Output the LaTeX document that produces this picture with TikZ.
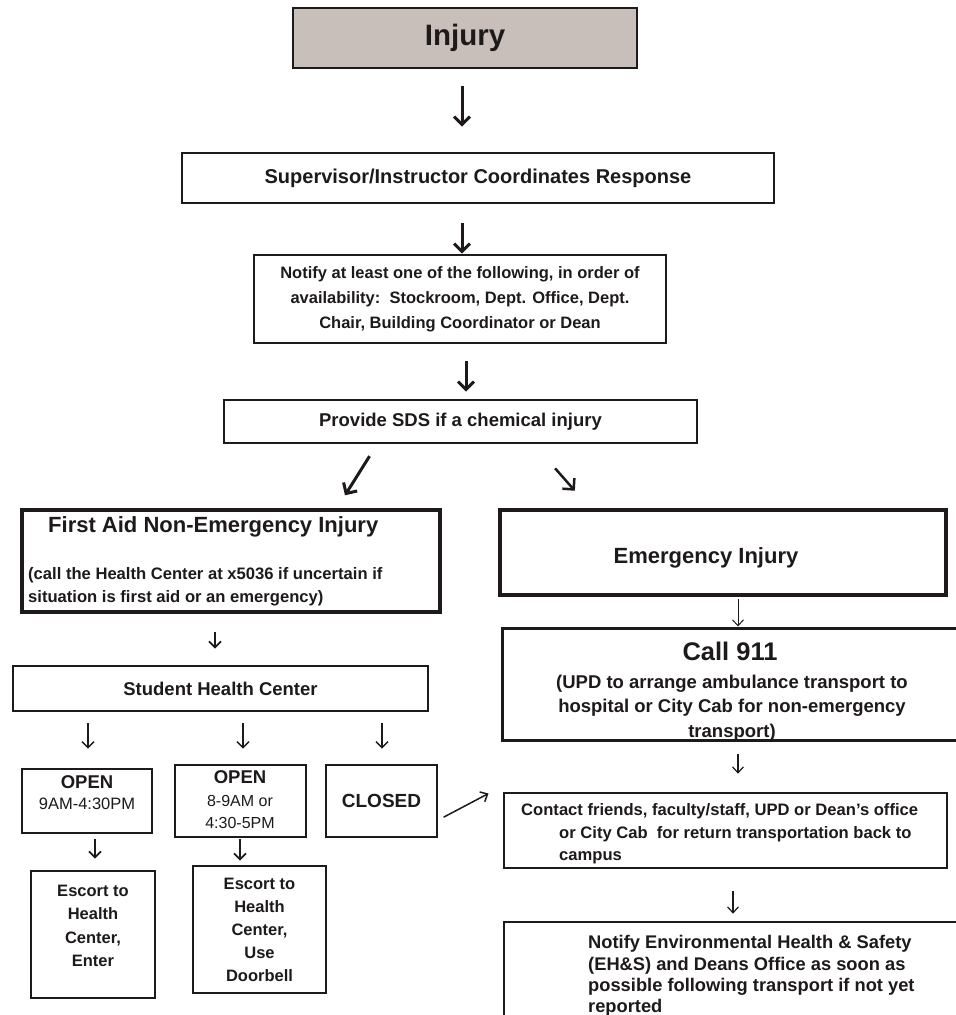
\documentclass[tikz,border=0pt]{standalone}
\usepackage{fontspec}
\setmainfont{Liberation Sans}
\usetikzlibrary{arrows.meta,calc}
\definecolor{ink}{RGB}{30,26,26}
\definecolor{injfill}{RGB}{200,191,187}
\newcommand\myfs[2]{\fontsize{#1}{#2}\selectfont}
\begin{document}
\begin{tikzpicture}[x=1pt,y=-1pt,
 box/.style={draw=ink,line width=2.6pt,fill=white,inner sep=0pt,text=ink},
 txt/.style={text=ink,inner sep=0pt},
 bigarr/.style={draw=ink,line width=3pt,-{Straight Barb[length=8pt,width=16pt]}},
 midarr/.style={draw=ink,line width=1.8pt,-{Straight Barb[length=6pt,width=12pt]}},
 thinarr/.style={draw=ink,line width=1.2pt,-{Straight Barb[length=6pt,width=11pt]}}]
\useasboundingbox (0,0) rectangle (956,1015);
\fill[white] (0,0) rectangle (956,1015);

% top column
\node[box,fill=injfill,minimum width=344pt,minimum height=60pt,font=\bfseries\myfs{29.5}{31}] (inj) at (465,38) {Injury};
\node[box,minimum width=592pt,minimum height=50pt,font=\bfseries\myfs{20}{22}] (sup) at (478,178) {Supervisor/Instructor Coordinates Response};
\node[box,minimum width=412pt,minimum height=88pt,align=center,font=\bfseries\myfs{16.5}{25}] (notify) at (460,299) {Notify at least one of the following, in order of\\availability:\ \ Stockroom, Dept. Office, Dept.\\Chair, Building Coordinator or Dean};
\node[box,minimum width=473pt,minimum height=43pt,font=\bfseries\myfs{18.5}{20}] (sds) at (460.5,421.5) {Provide SDS if a chemical injury};

% left branch
\node[box,line width=4pt,minimum width=418pt,minimum height=102pt] (fa) at (231,561) {};
\node[txt,anchor=west,font=\bfseries\myfs{22}{24}] (fat) at (48,527) {First Aid Non-Emergency Injury};
\node[txt,anchor=west,align=left,font=\bfseries\myfs{16.6}{23}] (fas) at (28,587) {(call the Health Center at x5036 if uncertain if\\situation is first aid or an emergency)};
\node[box,minimum width=415pt,minimum height=45pt,font=\bfseries\myfs{18.5}{20}] (shc) at (220.5,688.5) {Student Health Center};

\node[box,minimum width=130pt,minimum height=64pt] (o1) at (87,801) {};
\node[txt,font=\bfseries\myfs{18.5}{20}] (o1a) at (87,782) {OPEN};
\node[txt,font=\myfs{16.5}{18}] (o1b) at (87,804) {9AM-4:30PM};
\node[box,minimum width=131pt,minimum height=72pt] (o2) at (240.5,801) {};
\node[txt,font=\bfseries\myfs{18.5}{20}] (o2a) at (240,777) {OPEN};
\node[txt,align=center,font=\myfs{16}{22}] (o2b) at (240,812) {8-9AM or\\4:30-5PM};
\node[box,minimum width=111pt,minimum height=72pt,font=\bfseries\myfs{19}{20}] (cl) at (381.5,801) {CLOSED};

\node[box,minimum width=124pt,minimum height=127pt] (e1) at (93,934.5) {};
\node[txt,align=center,font=\bfseries\myfs{16.5}{23.3}] (e1t) at (93,926) {Escort to\\Health\\Center,\\Enter};
\node[box,minimum width=133pt,minimum height=127pt,align=center,font=\bfseries\myfs{16.5}{23}] (e2) at (259.5,929.5) {Escort to\\Health\\Center,\\Use\\Doorbell};

% right branch
\node[box,line width=4pt,minimum width=446pt,minimum height=85pt] (em) at (723,552.5) {};
\node[txt,font=\bfseries\myfs{22}{24}] (emt) at (706,558) {Emergency Injury};
\node[box,line width=3pt,minimum width=456pt,minimum height=112pt] (c911) at (730,684) {};
\node[txt,font=\bfseries\myfs{25.5}{27}] (c911a) at (730,651) {Call 911};
\node[txt,align=center,font=\bfseries\myfs{18.5}{24.5}] (c911b) at (732,708) {(UPD to arrange ambulance transport to\\hospital or City Cab for non-emergency\\transport)};
\node[box,minimum width=443pt,minimum height=75pt] (ct) at (725.5,830.5) {};
\node[txt,anchor=west,align=left,font=\bfseries\myfs{16.6}{22.5}] (ctt) at (521,834) {Contact friends, faculty/staff, UPD or Dean's office\\\hspace*{38pt}or City Cab\ \ for return transportation back to\\\hspace*{38pt}campus};
\node[box,minimum width=454pt,minimum height=96pt] (ehs) at (731,970) {};
\node[txt,anchor=west,align=left,font=\bfseries\myfs{18.3}{21.4}] (ehst) at (588,976) {Notify Environmental Health \& Safety\\(EH\&S) and Deans Office as soon as\\possible following transport if not yet\\reported};

% connectors
\draw[bigarr,shorten <=17pt,shorten >=25pt] ([xshift=-3pt]inj.south) -- ([xshift=-16pt]sup.north);
\draw[bigarr,shorten <=19pt] ([xshift=-16pt]sup.south) -- ([xshift=2pt]notify.north);
\draw[bigarr,shorten <=17pt,shorten >=7pt] ([xshift=6pt]notify.south) -- ([xshift=5.5pt]sds.north);
\draw[bigarr,shorten <=14pt,shorten >=15pt] ([xshift=-83.5pt]sds.south) -- ([xshift=106pt]fa.north);
\draw[bigarr,line width=2.5pt,shorten <=32pt,shorten >=23pt] ([xshift=73.5pt]sds.south) -- ([xshift=-133pt]em.north);
\draw[midarr,shorten <=18pt,shorten >=16pt] ([xshift=-16pt]fa.south) -- ([xshift=-5.5pt]shc.north);
\draw[midarr,line width=1.5pt,shorten <=11pt,shorten >=19pt] ([xshift=-132.5pt]shc.south) -- ([xshift=1pt]o1.north);
\draw[midarr,line width=1.5pt,shorten <=11pt,shorten >=15pt] ([xshift=22.5pt]shc.south) -- ([xshift=2.5pt]o2.north);
\draw[midarr,line width=1.5pt,shorten <=11pt,shorten >=15pt] ([xshift=161.5pt]shc.south) -- ([xshift=0.5pt]cl.north);
\draw[midarr,shorten <=5pt,shorten >=11pt] ([xshift=8pt]o1.south) -- ([xshift=2pt]e1.north);
\draw[midarr,shorten <=1pt,shorten >=4pt] ([xshift=-0.5pt]o2.south) -- ([xshift=-19.5pt]e2.north);
\draw[thinarr,line width=1.5pt,shorten <=6pt] ([yshift=-19pt]cl.east) -- ([xshift=-12pt,yshift=-52pt]c911.south west);
\draw[thinarr,line width=1pt,shorten <=2pt] ([xshift=15pt]em.south) -- ([xshift=8pt]c911.north);
\draw[thinarr,shorten <=12pt,shorten >=18pt] ([xshift=8pt]c911.south) -- ([xshift=12.5pt]ct.north);
\draw[thinarr,shorten <=22pt,shorten >=7pt] ([xshift=7.5pt]ct.south) -- ([xshift=2pt]ehs.north);
\end{tikzpicture}
\end{document}
